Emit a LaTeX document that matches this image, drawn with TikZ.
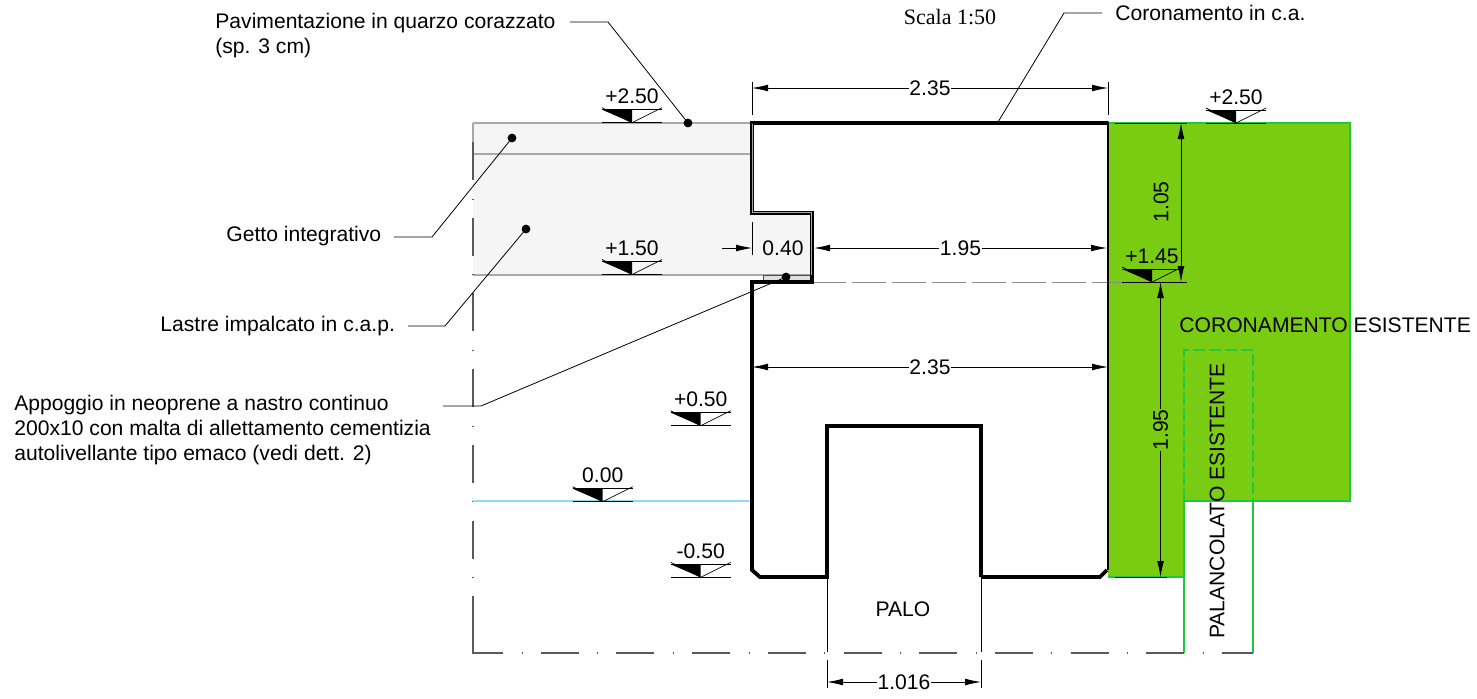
\documentclass[tikz,border=0pt]{standalone}
\usepackage{fontspec}
\setmainfont{Liberation Sans}
\newfontfamily\serifscale{Liberation Serif}
\usetikzlibrary{arrows.meta}

\definecolor{verdefill}{HTML}{7ACC12}
\definecolor{verdeline}{HTML}{1FC93A}
\definecolor{grigiofill}{HTML}{F5F5F5}
\definecolor{grigioline}{HTML}{A8A8A8}
\definecolor{ciano}{HTML}{8FDDF5}

\tikzset{
  dimline/.style={black, line width=0.4pt, {Latex[length=8pt,width=3.4pt]}-{Latex[length=8pt,width=3.4pt]}},
  dimarrow/.style={black, line width=0.4pt, -{Latex[length=8pt,width=3.4pt]}},
  extline/.style={black, line width=0.35pt},
  leader/.style={black, line width=0.4pt},
  dotmark/.style={circle, fill=black, inner sep=0pt, minimum size=4.4pt},
  wall/.style={black, line width=1.9pt, line join=miter},
  dashdot/.style={black!65, line width=0.55pt, dash pattern=on 19pt off 9.25pt on 0.5pt off 9.1pt},
  lbl/.style={inner sep=0pt, font=\fontsize{10.55}{12.5}\selectfont},
  dimlbl/.style={lbl, fill=white, inner xsep=0.3pt, inner ysep=0pt},
}

\newcommand{\quota}[4]{%
  \coordinate (#1) at (#2,#3);
  \fill[black] (#2-30,#3-13) -- (#2,#3-13) -- (#2,#3) -- cycle;
  \draw[black, line width=0.35pt] (#2-30,#3-13) -- (#2+30,#3-13);
  \draw[black, line width=0.35pt] (#2-30,#3-15) -- (#2,#3) -- (#2+30,#3-15);
  \draw[black, line width=0.5pt] (#2-30,#3) -- (#2+30,#3);
  \node[lbl] (#1lbl) at (#2,#3-26) {#4};
}

\begin{document}
\begin{tikzpicture}[x=0.5pt,y=-0.5pt]
  \useasboundingbox (0,0) rectangle (1477,698);

  % getto e pavimentazione
  \fill[grigiofill] (473,123) -- (752,123) -- (752,213) -- (812,213) -- (812,275) -- (473,275) -- cycle;
  \draw[grigioline, line width=0.6pt] (473,123) -- (752,123);
  \draw[grigioline, line width=0.6pt] (473,154) -- (752,154);
  \draw[grigioline, line width=0.6pt] (473,275) -- (812,275);
  \draw[grigioline, line width=0.9pt] (473,123) -- (473,180);
  \filldraw[fill=black!12, draw=black!70, line width=0.3pt] (763,275) rectangle (811,282);

  % esistente
  \fill[verdefill] (1108,123) -- (1350,123) -- (1350,501) -- (1184,501) -- (1184,577) -- (1108,577) -- cycle;
  \draw[verdeline, line width=0.6pt] (1108,123) -- (1350,123) -- (1350,501) -- (1184,501) -- (1184,653);
  \draw[verdeline, line width=0.6pt] (1108,577) -- (1184,577);
  \draw[verdeline, line width=0.6pt] (1253,501) -- (1253,653);
  \draw[verdeline, line width=0.6pt, dash pattern=on 6pt off 2pt] (1184,501) -- (1184,350) -- (1253,350) -- (1253,501);

  % limiti
  \draw[dashdot] (473,142) -- (473,634);
  \draw[black!65, line width=0.55pt] (473,596) -- (473,653) -- (503,653);
  \draw[dashdot, dash phase=19pt] (503,653) -- (1253,653);
  \draw[ciano, line width=0.8pt] (473,501) -- (752,501);
  \draw[black!45, line width=0.35pt, dash pattern=on 17pt off 3pt] (812,282) -- (1122,282);

  % coronamento
  \draw[wall] (981,577) -- (1100,577) -- (1107,570);
  \draw[black, line width=1pt] (1107.5,570) -- (1107.5,123);
  \draw[wall] (1108.5,123) -- (752,123) -- (752,213) -- (812,213) -- (812,282) -- (752,282) -- (752,570) -- (760,577) -- (827,577) -- (827,426) -- (981,426) -- (981,577);
  \draw[grigioline, line width=0.4pt] (752,124) -- (752,212) -- (811,212) -- (811,275);

  % palo
  \draw[extline] (827,577) -- (827,652);
  \draw[extline] (827,660) -- (827,688);
  \draw[extline] (981,577) -- (981,652);
  \draw[extline] (981,660) -- (981,688);

  % quote
  \quota{qa}{632}{122.7}{+2.50}
  \quota{qb}{632}{274.5}{+1.50}
  \quota{qc}{700.7}{425.7}{+0.50}
  \quota{qd}{602.7}{501.7}{0.00}
  \quota{qe}{700.7}{577.3}{-0.50}
  \quota{qf}{1236}{123}{+2.50}
  \quota{qg}{1152}{282}{+1.45}

  % misure
  \coordinate (ta) at (752,88);
  \coordinate (tb) at (1108,88);
  \draw[extline] (752,82) -- (752,115);
  \draw[extline] (1108,82) -- (1108,115);
  \draw[dimline] (ta) -- (tb) node[dimlbl, midway] (dimtop) {2.35};

  \coordinate (ma) at (752,367);
  \coordinate (mb) at (1108,367);
  \draw[dimline] (ma) -- (mb) node[dimlbl, midway] (dimmid) {2.35};

  \coordinate (ca) at (814,248);
  \coordinate (cb) at (1107,248);
  \draw[dimline] (ca) -- (cb) node[dimlbl, midway] (dimcor) {1.95};
  \coordinate (cc) at (722,248);
  \coordinate (cd) at (752,248);
  \draw[dimarrow] (cc) -- (cd);
  \draw[extline] (752,222) -- (752,255);
  \node[lbl] (dimsbalzo) at (783,248) {0.40};

  \coordinate (pa) at (827,682);
  \coordinate (pb) at (981,682);
  \draw[dimline] (pa) -- (pb) node[dimlbl, midway] (dimpalo) {1.016};

  \coordinate (va) at (1181,123);
  \coordinate (vb) at (1181,282);
  \draw[dimline] (va) -- (vb);
  \node[lbl, rotate=90] (dimalto) at (1161,202) {1.05};
  \draw[extline] (1115,123) -- (1187,123);
  \draw[extline] (1122,282) -- (1187,282);

  \coordinate (vc) at (1160.5,282);
  \coordinate (vd) at (1160.5,577);
  \draw[dimline] (vc) -- (vd);
  \node[dimlbl, fill=verdefill, rotate=90] (dimbasso) at (1160.5,430) {1.95};
  \draw[extline] (1115,577) -- (1167,577);

  % testi
  \node[lbl, anchor=west, align=left] (pav) at (215,36) {Pavimentazione in quarzo corazzato\\(sp. 3 cm)};
  \node[lbl, anchor=west] (getto) at (226,236) {Getto integrativo};
  \node[lbl, anchor=west] (lastre) at (160,326) {Lastre impalcato in c.a.p.};
  \node[lbl, anchor=west, align=left] (appoggio) at (14,430) {Appoggio in neoprene a nastro continuo\\200x10 con malta di allettamento cementizia\\autolivellante tipo emaco (vedi dett. 2)};
  \node[lbl, anchor=west] (cor) at (1115,13) {Coronamento in c.a.};
  \node[lbl, font=\fontsize{11}{13}\serifscale] (scala) at (950,17) {Scala 1:50};
  \node[lbl, anchor=west] (corex) at (1179,325) {CORONAMENTO ESISTENTE};
  \node[lbl, rotate=90] (palanc) at (1217,501) {PALANCOLATO ESISTENTE};
  \node[lbl] (palo) at (903,609) {PALO};

  % richiami
  \node[dotmark] (dpav) at (688,123) {};
  \node[dotmark] (dgetto) at (512,138) {};
  \node[dotmark] (dlastre) at (526,229) {};
  \node[dotmark] (dapp) at (786,277) {};
  \coordinate (kpav) at (608,22);
  \coordinate (kgetto) at (432,237);
  \coordinate (klastre) at (445,326);
  \coordinate (kapp) at (481,406);
  \coordinate (kcor) at (1064,13);
  \coordinate (scor) at (1102,13);
  \coordinate (ecor) at (998,122);
  \coordinate (spav) at (570,22);
  \coordinate (sgetto) at (394,237);
  \coordinate (slastre) at (408,326);
  \coordinate (sapp) at (443,406);
  \draw[leader] (spav) -- (kpav) -- (dpav.center);
  \draw[leader] (sgetto) -- (kgetto) -- (dgetto.center);
  \draw[leader] (slastre) -- (klastre) -- (dlastre.center);
  \draw[leader] (sapp) -- (kapp) -- (dapp.center);
  \draw[leader] (scor) -- (kcor) -- (ecor);
\end{tikzpicture}
\end{document}
